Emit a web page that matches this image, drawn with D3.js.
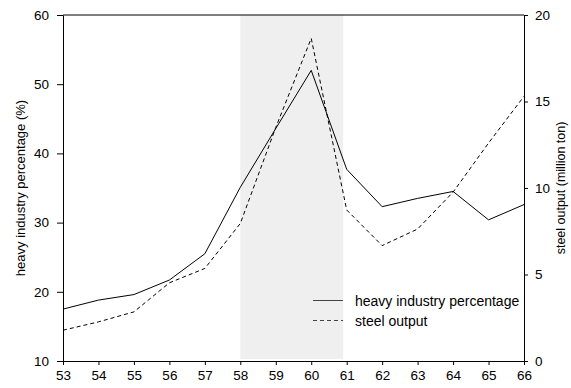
<!DOCTYPE html>
<html lang="en">
<head>
  <meta charset="utf-8">
  <title>heavy industry vs steel output</title>
  <script src="https://d3js.org/d3.v7.min.js"></script>
  <style>
    body { margin: 0; background: #fff; }
    svg text { font-family: "Liberation Sans", Arial, sans-serif; font-size: 13px; fill: #000; }
  </style>
</head>
<body>
  <div id="chart"></div>
  <script>
    var years = [53, 54, 55, 56, 57, 58, 59, 60, 61, 62, 63, 64, 65, 66];
    var heavyPct = [17.5, 18.8, 19.6, 21.7, 25.5, 35.1, 43.6, 52.0, 37.7, 32.3, 33.5, 34.5, 30.4, 32.6];
    var steelOut = [1.78, 2.26, 2.84, 4.52, 5.35, 7.95, 13.5, 18.65, 8.73, 6.67, 7.63, 9.76, 12.6, 15.3];
    var leftTicks = [10, 20, 30, 40, 50, 60];
    var rightTicks = [0, 5, 10, 15, 20];
    var shadeSpan = [58, 60.9];

    var w = 571, h = 388;
    var margin = {top: 15, right: 47, bottom: 27, left: 63};
    var innerW = w - margin.left - margin.right,
      innerH = h - margin.top - margin.bottom;

    var svg = d3.select('#chart').append('svg')
        .attr('width', w)
        .attr('height', h)
      .append('g')
        .attr('transform', 'translate(' + [margin.left, margin.top] + ')');

    var x = d3.scaleLinear().domain([53, 66]).range([0, innerW]);
    var yL = d3.scaleLinear().domain([10, 60]).range([innerH, 0]);
    var yR = d3.scaleLinear().domain([0, 20]).range([innerH, 0]);

    // shaded period
    svg.append('rect')
      .attr('x', x(shadeSpan[0]))
      .attr('y', 0)
      .attr('width', x(shadeSpan[1]) - x(shadeSpan[0]))
      .attr('height', innerH - 2)
      .attr('fill', '#efefef');

    // top frame line
    svg.append('line')
      .attr('x1', 0).attr('x2', innerW)
      .attr('y1', 0).attr('y2', 0)
      .attr('stroke', '#000').attr('stroke-width', 1);

    function styleAxis(g) {
      g.select('.domain').attr('stroke', '#000');
      g.selectAll('.tick line').attr('stroke', '#000');
      g.selectAll('.tick text').style('font-size', '13.5px');
    }

    svg.append('g')
      .attr('transform', 'translate(0,' + innerH + ')')
      .call(d3.axisBottom(x).tickValues(years).tickSize(4).tickPadding(5).tickSizeOuter(0))
      .call(styleAxis);

    svg.append('g')
      .call(d3.axisLeft(yL).tickValues(leftTicks).tickSize(6).tickPadding(8).tickSizeOuter(0))
      .call(styleAxis);

    svg.append('g')
      .attr('transform', 'translate(' + innerW + ',0)')
      .call(d3.axisRight(yR).tickValues(rightTicks).tickSize(4).tickPadding(7).tickSizeOuter(0))
      .call(styleAxis);

    var heavyLine = d3.line()
      .x(function(d, i) { return x(years[i]); })
      .y(function(d) { return yL(d); });
    var steelLine = d3.line()
      .x(function(d, i) { return x(years[i]); })
      .y(function(d) { return yR(d); });

    svg.append('path')
      .datum(heavyPct)
      .attr('d', heavyLine)
      .attr('fill', 'none')
      .attr('stroke', '#000')
      .attr('stroke-width', 1);

    svg.append('path')
      .datum(steelOut)
      .attr('d', steelLine)
      .attr('fill', 'none')
      .attr('stroke', '#000')
      .attr('stroke-width', 1)
      .attr('stroke-dasharray', '4,3');

    // axis titles
    svg.append('text')
      .attr('transform', 'translate(' + (20 - margin.left) + ',' + (innerH / 2) + ') rotate(-90)')
      .attr('text-anchor', 'middle')
      .attr('dominant-baseline', 'central')
      .text('heavy industry percentage (%)');

    svg.append('text')
      .attr('transform', 'translate(' + (561 - margin.left) + ',' + (innerH / 2) + ') rotate(-90)')
      .attr('text-anchor', 'middle')
      .attr('dominant-baseline', 'central')
      .style('font-size', '12.5px')
      .text('steel output (million ton)');

    // legend
    var legendItems = [
      {label: 'heavy industry percentage', dash: null},
      {label: 'steel output', dash: '4,3'}
    ];
    var legend = svg.selectAll('.legend')
      .data(legendItems)
      .enter().append('g')
        .attr('class', 'legend')
        .attr('transform', function(d, i) { return 'translate(' + (313 - margin.left) + ',' + (300.5 - margin.top + i * 20) + ')'; });
    legend.append('line')
      .attr('x1', 0).attr('x2', 30)
      .attr('y1', 0).attr('y2', 0)
      .attr('stroke', '#444')
      .attr('stroke-width', 1)
      .attr('stroke-dasharray', function(d) { return d.dash; });
    legend.append('text')
      .attr('x', 42)
      .attr('dominant-baseline', 'central')
      .style('font-size', '14px')
      .text(function(d) { return d.label; });
  </script>
</body>
</html>
